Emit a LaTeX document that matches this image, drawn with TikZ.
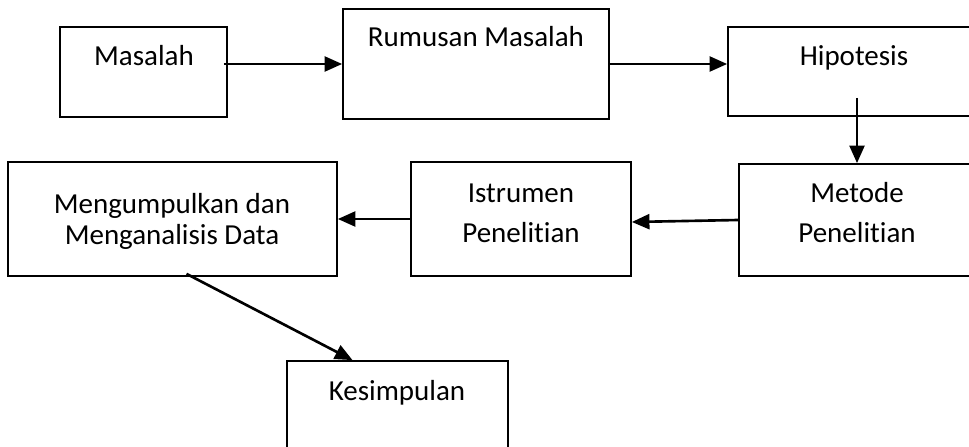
\documentclass[tikz,border=0pt]{standalone}
\usepackage{fontspec}
\setmainfont{Carlito}[Ligatures=NoCommon]
\usetikzlibrary{arrows.meta,positioning}

\begin{document}
\begin{tikzpicture}[
  x=0.02cm, y=-0.02cm,
  font=\fontsize{16.5}{19.8}\selectfont,
  every node/.style={inner sep=0pt},
  box/.style={draw, line width=1pt},
  lbl/.style={anchor=base},
  lbltwo/.style={align=center, font=\fontsize{16.5}{22.8}\selectfont},
  flow/.style={-{Triangle[length=10pt,width=8.5pt]}, line width=1.5pt},
]
\useasboundingbox (0,0) rectangle (969,446);

%% ---- top row ----
\node[box, minimum width=3.34cm, minimum height=1.80cm] (masalah) at (143.5,72) {};
\node[lbl] (masalahT) at (144,66) {Masalah};

\node[box, minimum width=5.32cm, minimum height=2.20cm] (rumusan) at (476,64) {};
\node[lbl] (rumusanT) at (476,47) {Rumusan Masalah};

\node[box, minimum width=5.04cm, minimum height=1.78cm] (hipotesis) at (854,71.5) {};
\node[lbl] (hipotesisT) at (854,66) {Hipotesis};

%% ---- middle row ----
\node[box, minimum width=4.72cm, minimum height=2.24cm] (metode) at (857,220) {};
\node[lbltwo] (metodeT) at (857,213) {Metode\\Penelitian};

\node[box, minimum width=4.40cm, minimum height=2.28cm] (istrumen) at (521,219) {};
\node[lbltwo] (istrumenT) at (521,213) {Istrumen\\Penelitian};

\node[box, minimum width=6.58cm, minimum height=2.28cm] (kumpul) at (172.5,219) {};
\node[align=center, font=\fontsize{16.5}{17.6}\selectfont] (kumpulT) at (172,221)
  {Mengumpulkan dan\\Menganalisis Data};

%% ---- bottom ----
\node[box, minimum width=4.42cm, minimum height=1.80cm] (simpul) at (397.5,406) {};
\node[lbl] (simpulT) at (397,400) {Kesimpulan};

%% ---- arrows ----
\draw[flow] (masalah.east |- rumusan.west) ++(-4,0) -- (rumusan.west);
\draw[flow] (rumusan.east) -- (rumusan.east -| hipotesis.west);
\draw[flow] (metode.north |- hipotesis.south) ++(0,-19) -- (metode.north);
\draw[flow] (metode.west) -- ([yshift=-0.06cm]istrumen.east);
\draw[flow] (istrumen.west) -- (kumpul.east);
\draw[flow] (kumpul.south) ++(14,-3) -- ([xshift=-0.9cm]simpul.north);

\end{tikzpicture}
\end{document}
